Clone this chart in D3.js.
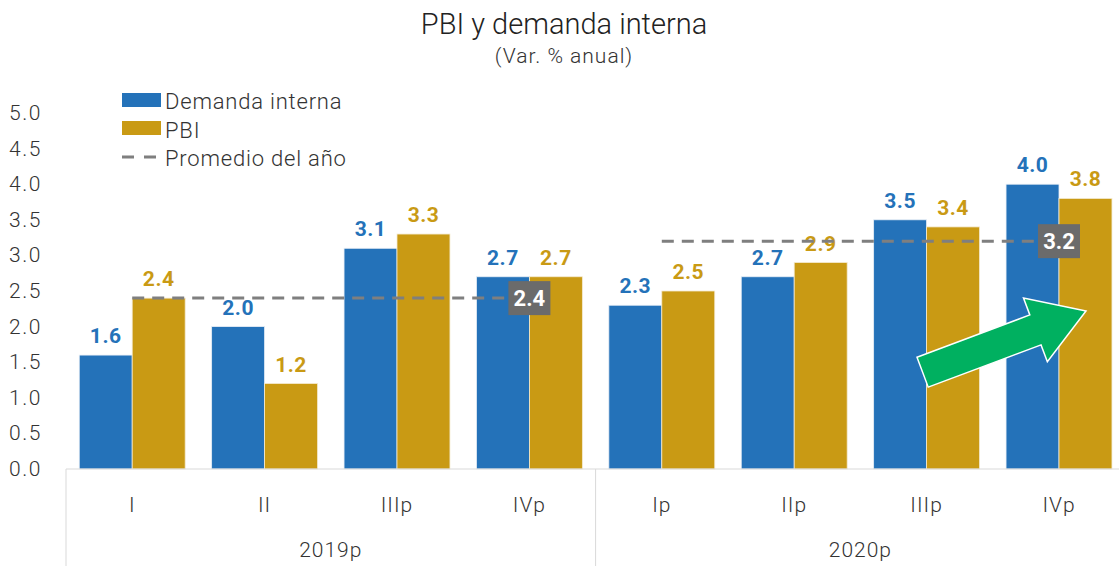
<!DOCTYPE html>
<html>
<head>
<meta charset="utf-8">
<script src="https://cdn.jsdelivr.net/npm/d3@7"></script>
<style>
  body { margin: 0; background: #fff; }
  text { font-family: Roboto, "Noto Sans", sans-serif; }
  .light { font-weight: 300; }
</style>
</head>
<body>
<script>
// data
var quarters = ["I", "II", "IIIp", "IVp", "Ip", "IIp", "IIIp", "IVp"];
var years = ["2019p", "2020p"];
var demanda = [1.6, 2.0, 3.1, 2.7, 2.3, 2.7, 3.5, 4.0];
var pbi = [2.4, 1.2, 3.3, 2.7, 2.5, 2.9, 3.4, 3.8];
var promedio = [2.4, 3.2];
var yTicks = [0, 0.5, 1, 1.5, 2, 2.5, 3, 3.5, 4, 4.5, 5];

var W = 1119, H = 566;
var blue = "#2472b9", gold = "#c99a14", grey = "#7f7f7f";

var svg = d3.select("body").append("svg")
	.attr("width", W)
	.attr("height", H);

var keys = quarters.map(function(q, i){ return i; });

var x = d3.scaleBand()
	.domain(keys)
	.range([66, 66 + 8 * 132.4])
	.paddingInner(0.2)
	.paddingOuter(0.1);

var step = x.step();
var xGroup = function(i){ return 66 + i * 4 * step; };

var y = d3.scaleLinear()
	.domain([0, 5])
	.range([469, 113]);

var xSub = d3.scaleBand()
	.domain(["d", "p"])
	.range([0, x.bandwidth()]);

// title
svg.append("text")
	.attr("class", "light")
	.attr("x", 564).attr("y", 34)
	.attr("text-anchor", "middle")
	.attr("font-size", 29)
	.attr("fill", "#222")
	.text("PBI y demanda interna");
svg.append("text")
	.attr("class", "light")
	.attr("x", 564).attr("y", 63)
	.attr("text-anchor", "middle")
	.attr("font-size", 21)
	.attr("letter-spacing", 1)
	.attr("fill", "#333")
	.text("(Var. % anual)");

// y axis labels
svg.append("g").selectAll("text")
	.data(yTicks)
	.enter()
	.append("text")
	.attr("class", "light")
	.attr("x", 9)
	.attr("y", function(d){ return y(d) + 7; })
	.attr("font-size", 21)
	.attr("letter-spacing", 1.5)
	.attr("fill", "#333")
	.text(function(d){ return d3.format(".1f")(d); });

// bars
var rows = keys.map(function(i){ return {i: i, d: demanda[i], p: pbi[i]}; });

var g = svg.append("g").selectAll("g")
	.data(rows)
	.enter()
	.append("g")
	.attr("transform", function(r){ return "translate(" + x(r.i) + ",0)"; });

g.append("rect")
	.attr("x", xSub("d"))
	.attr("y", function(r){ return y(r.d); })
	.attr("width", xSub.bandwidth())
	.attr("height", function(r){ return y(0) - y(r.d); })
	.attr("fill", blue)
	.attr("stroke", "#e8eef6")
	.attr("stroke-width", 0.8);

g.append("rect")
	.attr("x", xSub("p"))
	.attr("y", function(r){ return y(r.p); })
	.attr("width", xSub.bandwidth())
	.attr("height", function(r){ return y(0) - y(r.p); })
	.attr("fill", gold)
	.attr("stroke", "#f4ead0")
	.attr("stroke-width", 0.8);

g.append("text")
	.attr("x", xSub("d") + xSub.bandwidth() / 2)
	.attr("y", function(r){ return y(r.d) - 12; })
	.attr("text-anchor", "middle")
	.attr("font-size", 21)
	.attr("font-weight", "bold")
	.attr("letter-spacing", 0.5)
	.attr("fill", blue)
	.text(function(r){ return d3.format(".1f")(r.d); });

g.append("text")
	.attr("x", xSub("p") + xSub.bandwidth() / 2)
	.attr("y", function(r){ return y(r.p) - 12; })
	.attr("text-anchor", "middle")
	.attr("font-size", 21)
	.attr("font-weight", "bold")
	.attr("letter-spacing", 0.5)
	.attr("fill", gold)
	.text(function(r){ return d3.format(".1f")(r.p); });

// average lines with value boxes
var avg = svg.append("g").selectAll("g")
	.data(promedio)
	.enter()
	.append("g");

avg.append("line")
	.attr("x1", function(d, k){ return x(k * 4) + x.bandwidth() / 2; })
	.attr("x2", function(d, k){ return x(k * 4 + 3) + x.bandwidth() / 2 - 21; })
	.attr("y1", function(d){ return y(d); })
	.attr("y2", function(d){ return y(d); })
	.attr("stroke", grey)
	.attr("stroke-width", 3)
	.attr("stroke-dasharray", "12,8");

avg.append("rect")
	.attr("x", function(d, k){ return x(k * 4 + 3) + x.bandwidth() / 2 - 21; })
	.attr("y", function(d){ return y(d) - 17; })
	.attr("width", 42)
	.attr("height", 34)
	.attr("fill", "#6b6b6b");

avg.append("text")
	.attr("x", function(d, k){ return x(k * 4 + 3) + x.bandwidth() / 2; })
	.attr("y", function(d){ return y(d) + 8; })
	.attr("text-anchor", "middle")
	.attr("font-size", 22)
	.attr("font-weight", "bold")
	.attr("fill", "#fff")
	.text(function(d){ return d3.format(".1f")(d); });

// green arrow (annotation)
(function(){
	var tail = [x(6) + x.bandwidth() / 2 - 4, y(1.36)];
	var tip = [x(7) + x.bandwidth() / 2 + 27, y(2.22)];
	var dx = tip[0] - tail[0], dy = tip[1] - tail[1];
	var len = Math.sqrt(dx * dx + dy * dy);
	var ang = Math.atan2(dy, dx) * 180 / Math.PI;
	var hw = 16, hh = 34, hl = 54;
	var pts = [[0, -hw], [len - hl, -hw], [len - hl, -hh], [len, 0],
		[len - hl, hh], [len - hl, hw], [0, hw]];
	svg.append("polygon")
		.attr("points", pts.map(function(p){ return p.join(","); }).join(" "))
		.attr("transform", "translate(" + tail[0] + "," + tail[1] + ") rotate(" + ang + ")")
		.attr("fill", "#00b060")
		.attr("stroke", "#fff")
		.attr("stroke-width", 1.5);
})();

// x axis: baseline, separators, labels
svg.append("line")
	.attr("x1", 66).attr("x2", W)
	.attr("y1", y(0)).attr("y2", y(0))
	.attr("stroke", "#d9d9d9");

svg.append("g").selectAll("line")
	.data([0, 1, 2])
	.enter()
	.append("line")
	.attr("x1", function(k){ return xGroup(k); })
	.attr("x2", function(k){ return xGroup(k); })
	.attr("y1", y(0)).attr("y2", H)
	.attr("stroke", "#d9d9d9");

svg.append("g").selectAll("text")
	.data(keys)
	.enter()
	.append("text")
	.attr("class", "light")
	.attr("x", function(i){ return x(i) + x.bandwidth() / 2; })
	.attr("y", 512)
	.attr("text-anchor", "middle")
	.attr("font-size", 21)
	.attr("letter-spacing", 1)
	.attr("fill", "#333")
	.text(function(i){ return quarters[i]; });

svg.append("g").selectAll("text")
	.data(years)
	.enter()
	.append("text")
	.attr("class", "light")
	.attr("x", function(d, k){ return xGroup(k) + 2 * step; })
	.attr("y", 557)
	.attr("text-anchor", "middle")
	.attr("font-size", 21)
	.attr("letter-spacing", 1)
	.attr("fill", "#333")
	.text(function(d){ return d; });

// legend
var legend = svg.append("g").attr("transform", "translate(122,92)");
legend.append("rect").attr("x", 0).attr("y", 1).attr("width", 39).attr("height", 14).attr("fill", blue);
legend.append("rect").attr("x", 0).attr("y", 29).attr("width", 39).attr("height", 14).attr("fill", gold);
legend.append("line")
	.attr("x1", 0).attr("x2", 39).attr("y1", 65).attr("y2", 65)
	.attr("stroke", grey).attr("stroke-width", 3).attr("stroke-dasharray", "12,10");
var labels = ["Demanda interna", "PBI", "Promedio del año"];
legend.selectAll(".lab")
	.data(labels)
	.enter()
	.append("text")
	.attr("class", "light")
	.attr("x", 43)
	.attr("y", function(d, k){ return 17 + k * 28.5; })
	.attr("font-size", 22)
	.attr("letter-spacing", 0.8)
	.attr("fill", "#333")
	.text(function(d){ return d; });
</script>
</body>
</html>
